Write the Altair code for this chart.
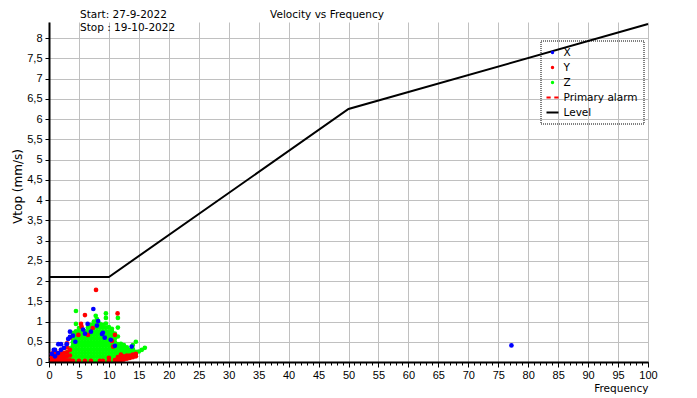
import altair as alt
import pandas as pd

# ---------------- data ----------------
SERIES = ["X", "Y", "Z", "Primary alarm", "Level"]
COLORS = ["#0000ff", "#ff0000", "#00ff00", "#ff0000", "#000000"]

level_freq = [0, 10, 50, 100]
level_vel = [2.1, 2.1, 6.25, 8.35]

x_freq = [0.5, 0.8, 1.0, 1.0, 1.5, 1.55, 2.0, 2.0, 2.5, 2.95, 3.2, 3.5, 3.5, 4.0, 4.4,
          5.7, 6.0, 6.45, 7.0, 7.4, 8.0, 8.2, 8.85, 9.0, 9.3, 10.3, 11.0, 13.8, 77.2]
x_vel = [0.2, 0.3, 0.14, 0.3, 0.22, 0.44, 0.3, 0.44, 0.35, 0.44, 0.57, 0.62, 0.75, 0.65, 0.5,
         0.8, 0.7, 0.94, 0.75, 1.31, 0.9, 1.01, 0.69, 0.72, 0.6, 0.55, 0.4, 0.38, 0.41]

y_cols = {
    0.5: [0.04, 0.12, 0.2],
    0.8: [0.08, 0.26],
    1.0: [0.04, 0.12, 0.2, 0.28],
    1.3: [0.06, 0.16],
    1.5: [0.04, 0.12, 0.22],
    2.0: [0.04, 0.12, 0.2, 0.3],
    2.5: [0.04, 0.12, 0.22, 0.34],
    3.0: [0.04, 0.14, 0.24, 0.36, 0.46],
    3.5: [0.04, 0.16, 0.3, 0.6],
    4.0: [0.03],
    4.9: [0.67],
    5.0: [0.03],
    5.35: [0.94],
    5.45: [0.87],
    6.0: [0.03, 1.16],
    6.5: [0.67],
    7.0: [0.03],
    7.3: [0.84],
    7.85: [1.78],
    8.5: [0.03],
    9.0: [0.03],
    10.0: [0.03, 0.1],
    10.5: [0.52],
    10.7: [0.38],
    11.0: [0.05, 0.67],
    11.45: [1.2],
    11.5: [0.04, 0.12],
    12.0: [0.04, 0.1, 0.18],
    12.5: [0.06, 0.14],
    13.0: [0.08, 0.16],
    13.5: [0.1, 0.16],
    14.0: [0.12, 0.18],
    14.5: [0.14, 0.2],
}

z_cols = {
    1.0: [0.04, 0.12],
    1.5: [0.05, 0.1],
    2.0: [0.04, 0.14],
    2.5: [0.06, 0.16],
    3.0: [0.05, 0.15, 0.24],
    3.5: [0.05, 0.14, 0.24, 0.34],
    4.0: [0.04, 0.13, 0.22, 0.31, 0.4, 0.49, 0.58, 0.66, 0.72],
    4.5: [0.04, 0.13, 0.22, 0.31, 0.4, 0.49, 0.58, 0.67, 0.76, 0.94, 1.26],
    5.0: [0.04, 0.13, 0.22, 0.31, 0.4, 0.49, 0.58, 0.67, 0.76, 0.84],
    5.5: [0.04, 0.13, 0.22, 0.31, 0.4, 0.49, 0.58, 0.67, 0.74],
    6.0: [0.04, 0.13, 0.22, 0.31, 0.4, 0.49, 0.58, 0.67, 0.76],
    6.5: [0.04, 0.13, 0.22, 0.31, 0.4, 0.49, 0.58, 0.67, 0.76, 0.85],
    7.0: [0.04, 0.13, 0.22, 0.31, 0.4, 0.49, 0.58, 0.67, 0.76, 0.85, 0.92],
    7.5: [0.04, 0.13, 0.22, 0.31, 0.4, 0.49, 0.58, 0.67, 0.76, 0.85, 0.94, 1.0],
    7.8: [1.14],
    8.0: [0.04, 0.13, 0.22, 0.31, 0.4, 0.49, 0.58, 0.67, 0.76, 0.85, 0.94, 1.06],
    8.5: [0.04, 0.13, 0.22, 0.31, 0.4, 0.49, 0.58, 0.67, 0.76, 0.85, 0.94],
    9.0: [0.04, 0.13, 0.22, 0.31, 0.4, 0.49, 0.58, 0.67, 0.76, 0.85, 0.92],
    9.5: [0.04, 0.13, 0.22, 0.31, 0.4, 0.49, 0.58, 0.67, 0.76, 0.85, 0.95, 1.09, 1.2],
    10.0: [0.04, 0.13, 0.22, 0.31, 0.4, 0.49, 0.58, 0.67, 0.76, 0.86],
    10.5: [0.04, 0.13, 0.22, 0.31, 0.4, 0.49, 0.58, 0.67, 0.76, 0.82],
    11.0: [0.04, 0.13, 0.22, 0.31, 0.4, 0.49, 0.58, 0.7],
    11.5: [0.08, 0.17, 0.26, 0.35, 0.44, 0.63, 0.85, 1.09],
    12.0: [0.12, 0.2, 0.28, 0.36, 0.45],
    12.5: [0.16, 0.25, 0.33, 0.42],
    13.0: [0.2, 0.28, 0.36],
    13.5: [0.22, 0.3],
    14.0: [0.24, 0.32, 0.42],
    14.5: [0.25, 0.5],
    15.0: [0.26],
    15.5: [0.3],
    16.0: [0.35],
}

x_ticks = list(range(0, 101, 5))
x_minor = list(range(0, 101, 1))
y_ticks = [0, 0.5, 1, 1.5, 2, 2.5, 3, 3.5, 4, 4.5, 5, 5.5, 6, 6.5, 7, 7.5, 8]

# ---------------- tables ----------------
rows = []
for f, vs in z_cols.items():
    for v in vs:
        rows.append({"freq": f, "vel": v, "series": "Z"})
for f, vs in y_cols.items():
    for v in vs:
        rows.append({"freq": f, "vel": v, "series": "Y"})
for f, v in zip(x_freq, x_vel):
    rows.append({"freq": f, "vel": v, "series": "X"})
pts = pd.DataFrame(rows)
pts["order"] = range(len(pts))

lvl = pd.DataFrame({"freq": level_freq, "vel": level_vel, "series": "Level"})

FONT = "DejaVu Sans"
TICKFONT = "Liberation Sans"
GRID = "#c0c0c0"

xscale = alt.Scale(domain=[0, 100], nice=False, zero=False)
yscale = alt.Scale(domain=[0, 8.4], nice=False)
cscale = alt.Scale(domain=SERIES, range=COLORS)

DOT = "M-0.12,0A0.12,0.12,0,1,1,0.12,0A0.12,0.12,0,1,1,-0.12,0Z"
DASH = "M-1,0H-0.3M0.3,0H1"
shape_expr = (
    f"datum.value == 'Level' ? 'stroke' : datum.value == 'Primary alarm' ? '{DASH}' : '{DOT}'"
)
legend = alt.Legend(
    title=None,
    orient="none",
    legendX=491.5,
    legendY=18.5,
    padding=5,
    strokeColor="black",
    labelFont=FONT,
    labelFontSize=10.5,
    labelColor="black",
    labelOffset=4,
    rowPadding=2,
    symbolSize=144,
    symbolType={"expr": shape_expr},
    symbolStrokeWidth=2,
    symbolStrokeColor={"expr": "scale('color', datum.value)"},
    symbolFillColor={"expr": "scale('color', datum.value)"},
    symbolOpacity=1,
)

x_axis = alt.Axis(
    values=x_ticks, grid=True, gridColor=GRID, gridWidth=1, domain=False,
    tickColor="black", tickSize=5, labelFont=TICKFONT, labelFontSize=11,
    labelColor="black", labelPadding=2, labelFlush=False, labelOverlap=False,
    title="Frequency", titleFont=FONT, titleFontSize=10.5, titleFontWeight="normal",
    titleColor="black", titleX=599, titleY=26, titleAlign="right", titleBaseline="middle",
)
y_axis = alt.Axis(
    values=y_ticks, grid=True, gridColor=GRID, gridWidth=1, domain=True,
    domainColor="black", domainWidth=2, tickColor="black", tickSize=4,
    labelFont=TICKFONT, labelFontSize=11, labelColor="black", labelPadding=3,
    labelOverlap=False, labelFlush=False,
    labelExpr="datum.value % 1 == 0 ? '' + round(datum.value) : floor(datum.value) + ',5'",
    title="Vtop (mm/s)", titleFont=FONT, titleFontSize=12, titleFontWeight="normal",
    titleColor="black", titleX=-32, titleY=164, titleAngle=270,
    titleAlign="center", titleBaseline="middle",
)
minor_axis = alt.Axis(
    values=x_minor, grid=False, labels=False, domain=True, domainColor="black",
    domainWidth=2, tickColor="black", tickSize=3, title=None, orient="bottom", zindex=1,
)

points = alt.Chart(pts).mark_circle(size=22, opacity=1).encode(
    x=alt.X("freq:Q", scale=xscale, axis=x_axis),
    y=alt.Y("vel:Q", scale=yscale, axis=y_axis),
    color=alt.Color("series:N", scale=cscale, legend=legend),
    order=alt.Order("order:Q"),
)

line = alt.Chart(lvl).mark_line(strokeWidth=2).encode(
    x=alt.X("freq:Q", scale=xscale, axis=minor_axis),
    y=alt.Y("vel:Q", scale=yscale, axis=y_axis),
    color=alt.Color("series:N", scale=cscale, legend=legend),
)

title_txt = alt.Chart(pd.DataFrame({"t": ["Velocity vs Frequency"]})).mark_text(
    font=FONT, fontSize=10.5, color="black", align="center", baseline="top"
).encode(x=alt.value(278), y=alt.value(-12), text="t:N")

start_txt = alt.Chart(pd.DataFrame({"t": ["Start: 27-9-2022"]})).mark_text(
    font=FONT, fontSize=10.5, color="black", align="left", baseline="top"
).encode(x=alt.value(31), y=alt.value(-12), text="t:N")

stop_txt = alt.Chart(pd.DataFrame({"t": ["Stop : 19-10-2022"]})).mark_text(
    font=FONT, fontSize=10.5, color="black", align="left", baseline="top"
).encode(x=alt.value(31), y=alt.value(1), text="t:N")

chart = (
    alt.layer(points, line, title_txt, start_txt, stop_txt)
    .resolve_axis(x="independent")
    .properties(
        width=599,
        height=340,
        autosize=alt.AutoSizeParams(type="none"),
        padding={"left": 41, "top": 14, "right": 25, "bottom": 36},
        background="white",
    )
    .configure_view(stroke=None)
    .configure_legend(strokeDash=[1, 1])
)

chart.save("out.html", embed_options={"renderer": "svg", "actions": False})
